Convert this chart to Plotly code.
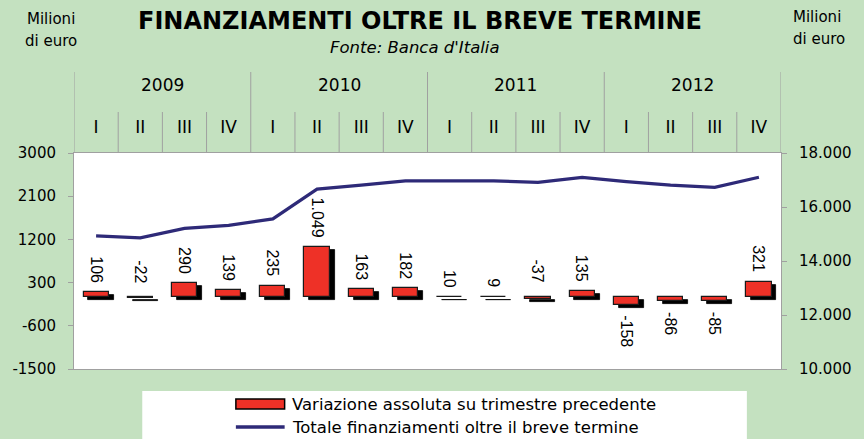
import plotly.graph_objects as go

# ---------------- data ----------------
years = ["2009", "2010", "2011", "2012"]
quarters = ["I", "II", "III", "IV"]
periods = [f"{y} {q}" for y in years for q in quarters]
quarter_labels = [q for y in years for q in quarters]
variazione = [106, -22, 290, 139, 235, 1049, 163, 182, 10, 9, -37, 135, -158, -86, -85, 321]
totale = [14930, 14860, 15210, 15320, 15560, 16660, 16810, 16970,
          16970, 16970, 16910, 17100, 16940, 16810, 16730, 17100]
left_ticks = [-1500, -600, 300, 1200, 2100, 3000]
right_ticks = [10000, 12000, 14000, 16000, 18000]
name_bar = "Variazione assoluta su trimestre precedente"
name_line = "Totale finanziamenti oltre il breve termine"

# ---------------- layout constants ----------------
W, H = 864, 439
ML, MR, MT, MB = 68, 71, 153, 70
PW = W - ML - MR
PH = H - MT - MB


def px_x(px):
    return (px - ML) / PW


def px_y(py):
    return (H - MB - py) / PH


BG = "#c4e1c0"
RED = "#ee3127"
NAVY = "#2e2a78"
GRID = "#a0a0a0"
FONT = "DejaVu Sans"
ARIAL = "Liberation Sans, Arial"

ymin, ymax = left_ticks[0], left_ticks[-1]
n = len(periods)
bar_w = 0.57
shadow_dx = 5 / (PW / n)
shadow_dy = 3 * (ymax - ymin) / PH

fig = go.Figure()

# shadow bars
fig.add_trace(go.Bar(
    x=periods, y=variazione, base=[-shadow_dy] * n,
    width=bar_w, offset=-bar_w / 2 + shadow_dx,
    marker=dict(color="black", line=dict(color="black", width=0.8)),
    hoverinfo="skip", showlegend=False))

# main bars
fig.add_trace(go.Bar(
    x=periods, y=variazione, width=bar_w, offset=-bar_w / 2,
    marker=dict(color=RED, line=dict(color="#1a1a1a", width=1.2)),
    name=name_bar, showlegend=False))

# line
fig.add_trace(go.Scatter(
    x=periods, y=totale, yaxis="y2", mode="lines",
    line=dict(color=NAVY, width=3.2), name=name_line, showlegend=False))

# bar value labels
for p, v in zip(periods, variazione):
    txt = f"{v:,}".replace(",", ".")
    above = v > -50
    fig.add_annotation(
        x=p, y=max(v, 0) if above else v, text=txt, textangle=90,
        showarrow=False, xanchor="center",
        yanchor="bottom" if above else "top",
        yshift=(7 if v >= 0 else 12) if above else -9,
        font=dict(family=ARIAL, size=16, color="black"))

# year labels
for k, yr in enumerate(years):
    fig.add_annotation(
        x=4 * k + 1.5, xref="x", y=px_y(85), yref="paper", text=yr,
        xanchor="center", yanchor="middle",
        showarrow=False, font=dict(family=FONT, size=17, color="black"))

# separators in the header table
for i in range(n + 1):
    top = 72 if i % 4 == 0 else 112
    fig.add_shape(type="line", xref="x", yref="paper",
                  x0=i - 0.5, x1=i - 0.5, y0=1, y1=px_y(top),
                  line=dict(color=GRID, width=1))

# legend (manual)
fig.add_shape(type="rect", xref="paper", yref="paper",
              x0=px_x(138), x1=px_x(758), y0=px_y(391), y1=px_y(440),
              fillcolor="white", line=dict(width=0), layer="below")
fig.add_shape(type="rect", xref="paper", yref="paper",
              x0=px_x(234), x1=px_x(284), y0=px_y(399), y1=px_y(409),
              fillcolor=RED, line=dict(color="black", width=1.5))
fig.add_shape(type="line", xref="paper", yref="paper",
              x0=px_x(234), x1=px_x(284), y0=px_y(427), y1=px_y(427),
              line=dict(color=NAVY, width=3.5))
fig.add_annotation(x=px_x(289), y=px_y(404), xref="paper", yref="paper",
                   xanchor="left", yanchor="middle", text=name_bar, showarrow=False,
                   font=dict(family=FONT, size=16.5, color="black"))
fig.add_annotation(x=px_x(289), y=px_y(427), xref="paper", yref="paper",
                   xanchor="left", yanchor="middle", text=name_line, showarrow=False,
                   font=dict(family=FONT, size=16.5, color="black"))

# subtitle and unit labels
fig.add_annotation(x=px_x(418), y=px_y(48), xref="paper", yref="paper",
                   xanchor="center", yanchor="middle",
                   text="<i>Fonte: Banca d'Italia</i>", showarrow=False,
                   font=dict(family=FONT, size=16.5, color="black"))
for txt, py in (("Milioni", 19), ("di euro", 41)):
    fig.add_annotation(x=px_x(44), y=px_y(py), xref="paper", yref="paper",
                       xanchor="center", yanchor="middle",
                       text=txt, showarrow=False,
                       font=dict(family=FONT, size=15, color="black"))
for txt, py in (("Milioni", 17), ("di euro", 39)):
    fig.add_annotation(x=px_x(803), y=px_y(py), xref="paper", yref="paper",
                       xanchor="left", yanchor="middle", text=txt, showarrow=False,
                       font=dict(family=FONT, size=15, color="black"))

zero_pos = (0 - ymin) / (ymax - ymin)

fig.update_layout(
    width=W, height=H,
    margin=dict(l=ML, r=MR, t=MT, b=MB, pad=0),
    paper_bgcolor=BG, plot_bgcolor="white",
    barmode="overlay", bargap=0,
    separators=",.",
    showlegend=False,
    title=dict(text="<b>FINANZIAMENTI OLTRE IL BREVE TERMINE</b>",
               x=420 / W, xanchor="center", xref="container",
               y=1 - 21 / H, yanchor="middle", yref="container",
               font=dict(family=FONT, size=24, color="black")),
    xaxis=dict(type="category", categoryorder="array", categoryarray=periods,
               range=[-0.5, n - 0.5], side="top",
               tickvals=periods, ticktext=quarter_labels, ticks="",
               ticklabelstandoff=12,
               showline=True, linecolor=GRID, linewidth=1, mirror=True,
               showgrid=False, zeroline=False,
               tickfont=dict(family=FONT, size=17, color="black")),
    xaxis2=dict(overlaying="x", anchor="free", position=zero_pos,
                type="linear", range=[-0.5, n - 0.5], tick0=-0.5, dtick=1,
                ticks="outside", ticklen=6, tickcolor=GRID, side="bottom",
                showticklabels=False, showline=True, linecolor=GRID,
                showgrid=False, zeroline=False),
    xaxis3=dict(overlaying="x", anchor="free", position=zero_pos,
                type="linear", range=[-0.5, n - 0.5], tick0=-0.5, dtick=1,
                ticks="inside", ticklen=5, tickcolor=GRID, side="bottom",
                showticklabels=False, showline=False,
                showgrid=False, zeroline=False),
    yaxis=dict(range=[ymin, ymax], tickvals=left_ticks,
               ticktext=[str(v) for v in left_ticks],
               ticks="outside", ticklen=5, tickcolor=GRID,
               ticklabelstandoff=9,
               showline=True, linecolor=GRID, showgrid=False, zeroline=False,
               tickfont=dict(family=FONT, size=15, color="black")),
    yaxis2=dict(overlaying="y", side="right", range=[10000, 18000],
                tickvals=right_ticks, tickformat=",d",
                ticks="outside", ticklen=5, tickcolor=GRID,
                ticklabelstandoff=9,
                showline=True, linecolor=GRID, showgrid=False, zeroline=False,
                tickfont=dict(family=FONT, size=15, color="black")),
)

fig.write_html("out.html",
               config={"displayModeBar": False},
               post_script="document.body.style.margin='0';"
                           "document.body.style.padding='0';")
